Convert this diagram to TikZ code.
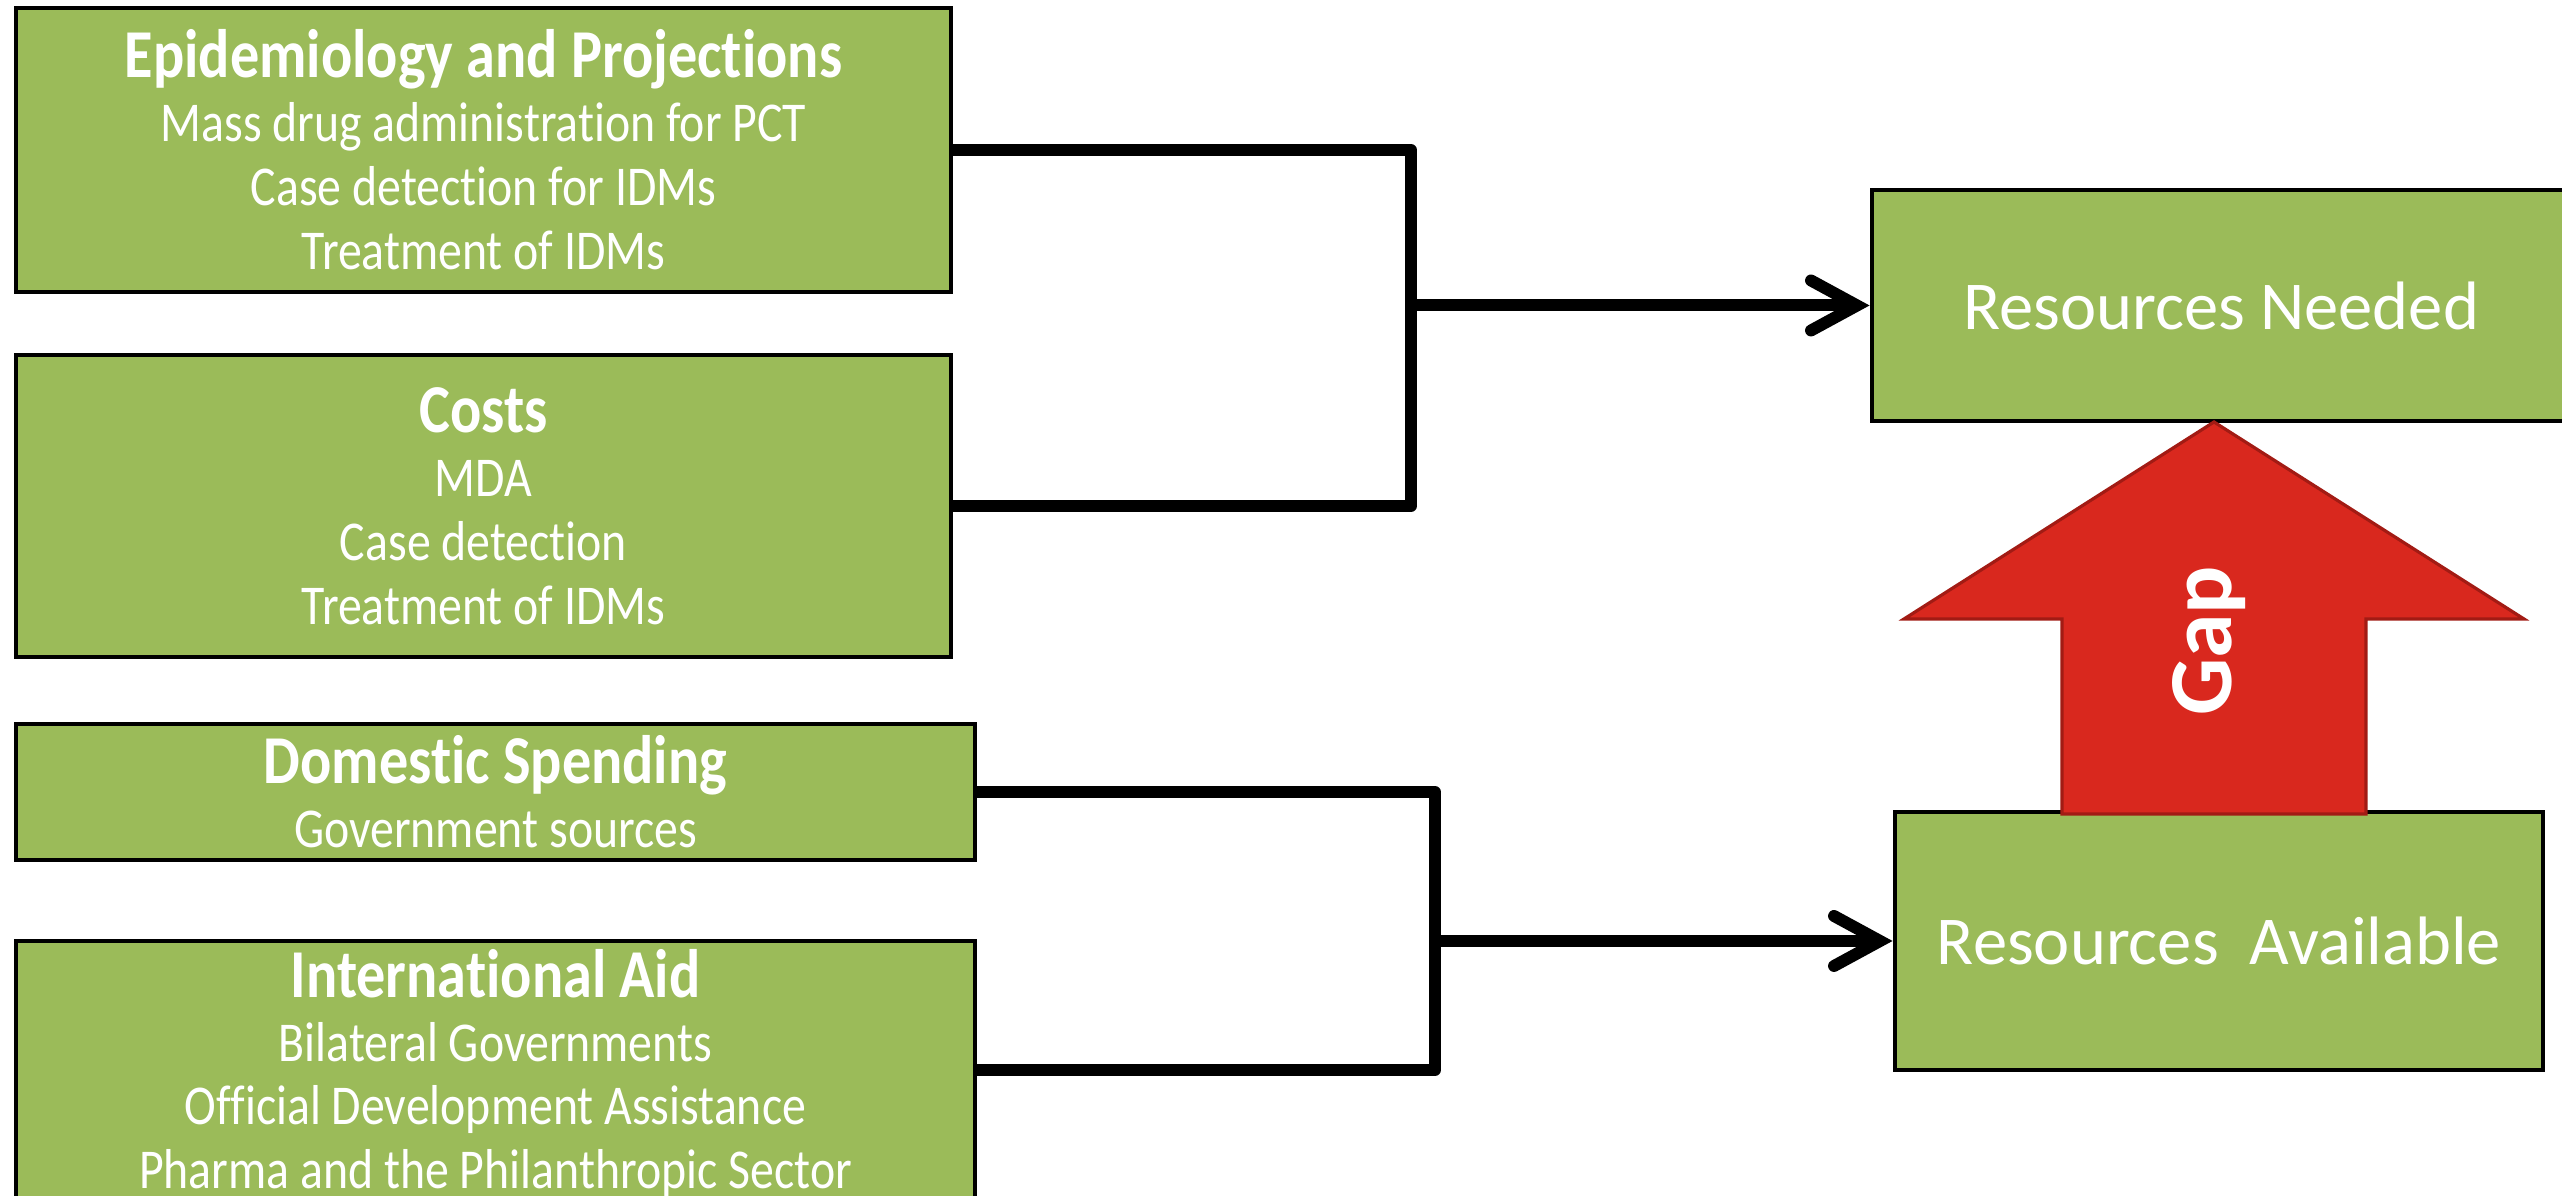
\documentclass[tikz,border=0pt]{standalone}
\usepackage{fontspec}
\setmainfont{Carlito}[Ligatures=NoCommon]
\newfontfamily\narrowfont{Carlito}[FakeStretch=0.85, Ligatures=NoCommon]
\usetikzlibrary{arrows.meta}

\definecolor{boxgreen}{HTML}{9BBB59}
\definecolor{gapred}{HTML}{D9281E}
\definecolor{gapedge}{HTML}{A21B14}

\tikzset{
  infobox/.style={draw=black, line width=1.4pt, fill=boxgreen, text=white,
    align=center, inner sep=0pt, font=\narrowfont\fontsize{16}{18.2}\selectfont},
  resbox/.style={draw=black, line width=1.4pt, fill=boxgreen, text=white,
    inner sep=0pt, font=\fontsize{19.5}{23}\selectfont},
  link/.style={line width=3.4pt, line join=round},
  feed/.style={link, -{Straight Barb[length=4.6mm, width=5mm, line cap=round]}},
  gapshape/.style={fill=gapred, draw=gapedge, line width=0.9pt},
  gaplabel/.style={text=white, font=\bfseries\fontsize{25.6}{30}\selectfont}
}
\newcommand{\boxhead}[1]{{\bfseries\fontsize{19.5}{18.2}\selectfont #1}}

\begin{document}
\begin{tikzpicture}
  \path[use as bounding box] (0,0) rectangle (25.62,11.96);

  % inputs
  \node[infobox, minimum width=9.35cm, minimum height=2.84cm] (epi) at (4.835,10.46)
    {\boxhead{Epidemiology and Projections}\\Mass drug administration for PCT\\Case detection for IDMs\\Treatment of IDMs};
  \node[infobox, minimum width=9.35cm, minimum height=3.02cm] (costs) at (4.835,6.90)
    {\boxhead{Costs}\\MDA\\Case detection\\Treatment of IDMs};
  \node[infobox, minimum width=9.59cm, minimum height=1.36cm] (domestic) at (4.955,4.04)
    {\boxhead{Domestic Spending}\\Government sources};
  \node[infobox, minimum width=9.59cm, minimum height=2.65cm] (aid) at (4.955,1.225)
    {\boxhead{International Aid}\\Bilateral Governments\\Official Development Assistance\\Pharma and the Philanthropic Sector};

  % outputs
  \node[resbox, minimum width=6.98cm, minimum height=2.31cm] (needed) at (22.21,8.905) {Resources Needed};
  \node[resbox, minimum width=6.48cm, minimum height=2.58cm] (available) at (22.19,2.55) {Resources~~Available};

  % brackets
  \coordinate (needjoin) at (14.11,8.905);
  \coordinate (availjoin) at (14.35,2.55);
  \draw[link] (epi.east) -| (needjoin) |- (costs.east);
  \draw[feed] (needjoin) -- (needed.west);
  \draw[link] (domestic.east) -| (availjoin) |- ([yshift=0.35mm]aid.east);
  \draw[feed] (availjoin) -- (available.west);

  % gap arrow
  \coordinate (gaptip) at (22.14,7.74);
  \draw[gapshape] (20.62,3.82) -- (20.62,5.77) -- (19.04,5.77) -- (gaptip)
    -- (25.24,5.77) -- (23.66,5.77) -- (23.66,3.82) -- cycle;
  \node[gaplabel, rotate=90] (gap) at (22.09,5.55) {Gap};
\end{tikzpicture}
\end{document}
